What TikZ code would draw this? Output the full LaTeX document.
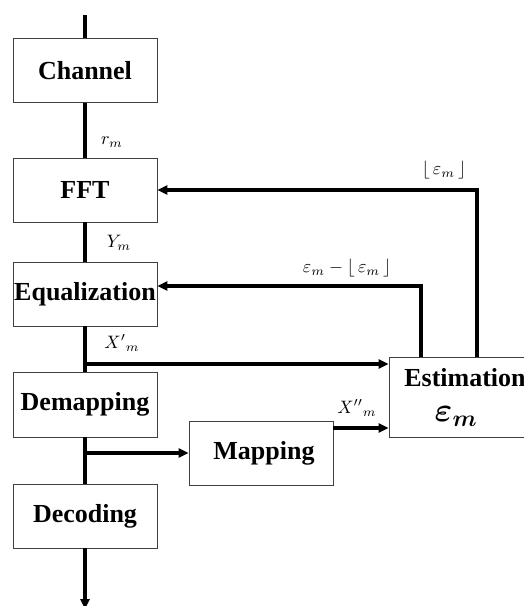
\documentclass[tikz,border=0pt]{standalone}
\usepackage{fontspec}
\usepackage{bm}
\setmainfont{Liberation Serif}
\usetikzlibrary{arrows.meta}
\newcommand{\biglbl}[1]{\scalebox{1.8}{#1}}
\begin{document}
\begin{tikzpicture}[x=1pt,y=-1pt,
  blk/.style={draw=black!75,line width=0.9pt,minimum width=144pt,minimum height=64pt,inner sep=0pt,
    font=\fontsize{26}{30}\selectfont\bfseries},
  mainln/.style={line width=3.6pt},
  arr/.style={line width=3.2pt,-{Triangle[length=10pt,width=9pt]}},
  lbl/.style={inner sep=0pt}]
\useasboundingbox (0,0) rectangle (523,606);
\node[blk] (ch) at (85,70.5) {Channel};
\node[blk] (fft) at (85,190) {FFT};
\node[blk] (eq) at (85,294) {Equalization};
\node[blk,minimum height=65pt] (dem) at (85,404.5) {Demapping};
\node[blk] (dec) at (85,516) {Decoding};
\node[blk] (map) at (261,453) {\hspace*{6pt}Mapping};
\node[blk,minimum width=152pt,minimum height=80pt,align=center] (est) at (465,397)
  {Estimation\\[5pt]\scalebox{1.35}{$\bm{\varepsilon_m}$}\hspace*{18pt}};
\coordinate (top) at (85,15);
\coordinate (bot) at (85,609);
\coordinate (j1) at (85,364);
\coordinate (j2) at (85,453);
\draw[mainln] (top) -- (ch.north);
\draw[mainln] (ch.south) -- (fft.north);
\draw[mainln] (fft.south) -- (eq.north);
\draw[mainln] (eq.south) -- (dem.north);
\draw[mainln] (dem.south) -- (dec.north);
\draw[mainln,-{Triangle[length=10pt,width=9pt]}] (dec.south) -- (bot);
\draw[arr] (est.north -| 477,0) |- (fft.east);
\draw[arr] (est.north -| 421,0) |- ([yshift=8pt]eq.east);
\draw[arr] (j1) -- (j1 -| est.west);
\draw[arr] (j2) -- (map.west);
\draw[arr] ([yshift=25pt]map.east) -- ([yshift=25pt]map.east -| est.west);
\node[lbl] (lr) at (112,142) {\biglbl{$r_m$}};
\node[lbl] (ly) at (119,243) {\biglbl{$Y_m$}};
\node[lbl] (lx1) at (122,343) {\biglbl{$X'{}_{m}$}};
\node[lbl] (lx2) at (357,408) {\biglbl{$X''{}_{m}$}};
\node[lbl] (lf) at (444,170) {\biglbl{$\lfloor\, \varepsilon_m \,\rfloor$}};
\node[lbl] (ld) at (347,268) {\biglbl{$\varepsilon_m - \lfloor\, \varepsilon_m \,\rfloor$}};
\end{tikzpicture}
\end{document}
